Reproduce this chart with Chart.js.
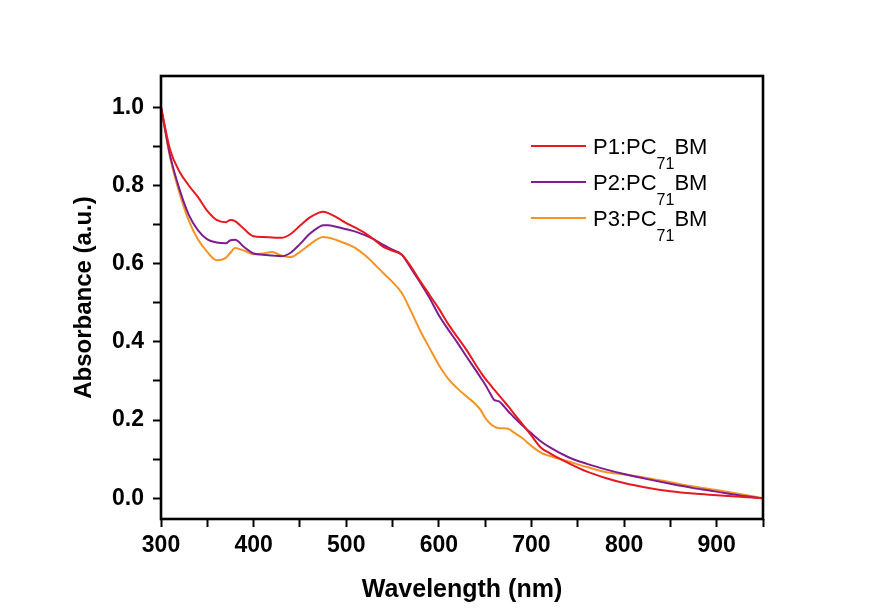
<!DOCTYPE html>
<html>
<head>
<meta charset="utf-8">
<script src="https://cdn.jsdelivr.net/npm/chart.js@4.4.0/dist/chart.umd.min.js"></script>
<style>
  html, body { margin: 0; padding: 0; background: #ffffff; }
  #wrap { width: 873px; height: 615px; }
</style>
</head>
<body>
<div id="wrap"><canvas id="c" width="873" height="615"></canvas></div>
<script>
// ---- Data ----
const wavelengths = [300, 310, 320, 330, 340, 350, 360, 370, 375, 380, 390, 400, 410, 420, 430, 440, 450, 460, 470, 475, 480, 490, 500, 510, 520, 530, 540, 550, 560, 570, 580, 590, 600, 610, 620, 630, 640, 645, 650, 655, 660, 665, 670, 675, 680, 690, 700, 710, 720, 740, 760, 780, 800, 825, 850, 875, 900, 925, 950];

const p1 = [1.000, 0.890, 0.835, 0.800, 0.770, 0.735, 0.712, 0.706, 0.712, 0.709, 0.688, 0.670, 0.668, 0.667, 0.666, 0.676, 0.697, 0.717, 0.730, 0.733, 0.730, 0.718, 0.704, 0.692, 0.679, 0.662, 0.643, 0.633, 0.623, 0.592, 0.555, 0.520, 0.485, 0.446, 0.412, 0.379, 0.341, 0.323, 0.306, 0.292, 0.277, 0.263, 0.249, 0.235, 0.220, 0.190, 0.160, 0.130, 0.115, 0.090, 0.068, 0.052, 0.039, 0.027, 0.018, 0.012, 0.008, 0.004, 0.000];

const p2 = [1.000, 0.875, 0.790, 0.725, 0.685, 0.662, 0.654, 0.652, 0.660, 0.661, 0.642, 0.626, 0.623, 0.621, 0.619, 0.628, 0.650, 0.675, 0.693, 0.698, 0.698, 0.694, 0.688, 0.682, 0.673, 0.662, 0.648, 0.636, 0.623, 0.588, 0.551, 0.512, 0.468, 0.432, 0.398, 0.362, 0.327, 0.309, 0.291, 0.270, 0.251, 0.248, 0.236, 0.222, 0.210, 0.187, 0.166, 0.146, 0.130, 0.105, 0.088, 0.074, 0.062, 0.049, 0.037, 0.026, 0.017, 0.007, 0.000];

const p3 = [1.000, 0.870, 0.780, 0.710, 0.662, 0.630, 0.609, 0.615, 0.628, 0.640, 0.633, 0.624, 0.626, 0.630, 0.621, 0.617, 0.630, 0.648, 0.664, 0.668, 0.667, 0.660, 0.651, 0.640, 0.622, 0.600, 0.576, 0.553, 0.525, 0.478, 0.428, 0.384, 0.341, 0.306, 0.281, 0.260, 0.240, 0.226, 0.206, 0.192, 0.183, 0.179, 0.179, 0.178, 0.170, 0.154, 0.134, 0.117, 0.108, 0.094, 0.080, 0.067, 0.061, 0.052, 0.041, 0.030, 0.021, 0.011, 0.000];

const seriesLabels = ['P1:PC{71}BM', 'P2:PC{71}BM', 'P3:PC{71}BM'];
const seriesColors = ['#E8191E', '#7E1E8E', '#F39424'];
const xTickLabels = [300, 400, 500, 600, 700, 800, 900];
const yTickLabels = [0.0, 0.2, 0.4, 0.6, 0.8, 1.0];
const xTitle = 'Wavelength (nm)';
const yTitle = 'Absorbance (a.u.)';

const FONT = "'Liberation Sans', Arial, Helvetica, sans-serif";

function pts(ys) { return wavelengths.map((w, i) => ({ x: w, y: ys[i] })); }

// frame around plot area
const framePlugin = {
  id: 'frame',
  afterDraw(chart) {
    const { ctx, chartArea: a } = chart;
    ctx.save();
    ctx.strokeStyle = '#000';
    ctx.lineWidth = 2.6;
    ctx.strokeRect(a.left, a.top, a.right - a.left, a.bottom - a.top);
    ctx.restore();
  }
};

// legend with subscripts
const legendPlugin = {
  id: 'subLegend',
  afterDraw(chart) {
    const { ctx, chartArea: a } = chart;
    ctx.save();
    chart.data.datasets.forEach((ds, i) => {
      const y = a.top + 70 + i * 36;
      const x0 = a.left + 370;
      ctx.strokeStyle = ds.borderColor;
      ctx.lineWidth = 2;
      ctx.beginPath();
      ctx.moveTo(x0, y);
      ctx.lineTo(x0 + 55, y);
      ctx.stroke();
      const m = ds.label.match(/^(.*)\{(.*)\}(.*)$/);
      let x = x0 + 62;
      const base = y + 8;
      ctx.fillStyle = '#000';
      ctx.textBaseline = 'alphabetic';
      ctx.textAlign = 'left';
      ctx.font = '22px ' + FONT;
      ctx.fillText(m[1], x, base);
      x += ctx.measureText(m[1]).width;
      ctx.font = '16px ' + FONT;
      ctx.fillText(m[2], x, base + 15);
      x += ctx.measureText(m[2]).width;
      ctx.font = '22px ' + FONT;
      ctx.fillText(m[3], x, base);
    });
    ctx.restore();
  }
};

new Chart(document.getElementById('c'), {
  type: 'line',
  data: {
    datasets: [p1, p2, p3].map((ys, i) => ({
      label: seriesLabels[i],
      data: pts(ys),
      borderColor: seriesColors[i],
      backgroundColor: seriesColors[i],
      borderWidth: 2,
      pointRadius: 0,
      fill: false,
      cubicInterpolationMode: 'monotone'
    }))
  },
  options: {
    responsive: false,
    animation: false,
    devicePixelRatio: 1,
    layout: { padding: { left: 0, right: 110, top: 76, bottom: 0 } },
    plugins: { legend: { display: false }, tooltip: { enabled: false } },
    scales: {
      x: {
        type: 'linear',
        min: 300,
        max: 950,
        border: { display: false },
        grid: { display: true, drawOnChartArea: false, drawTicks: true, tickLength: 8, tickWidth: 2, tickColor: '#000' },
        ticks: {
          stepSize: 50,
          autoSkip: false,
          maxRotation: 0,
          padding: 5,
          color: '#000',
          font: { family: FONT, size: 23, weight: 'bold' },
          callback: (v) => xTickLabels.includes(Math.round(v)) ? String(Math.round(v)) : ''
        },
        title: { display: true, text: xTitle, color: '#000', font: { family: FONT, size: 25, weight: 'bold' }, padding: { top: 0, bottom: 10 } },
        afterFit: (s) => { s.height = 96; }
      },
      y: {
        type: 'linear',
        min: -0.053,
        max: 1.08,
        border: { display: false },
        grid: { display: true, drawOnChartArea: false, drawTicks: true, tickLength: 8, tickWidth: 2, tickColor: '#000' },
        ticks: {
          stepSize: 0.1,
          includeBounds: false,
          autoSkip: false,
          padding: 9,
          color: '#000',
          font: { family: FONT, size: 23, weight: 'bold' },
          callback: (v) => {
            const r = Math.round(v * 10) / 10;
            return yTickLabels.some(t => Math.abs(t - r) < 1e-6) ? r.toFixed(1) : '';
          }
        },
        title: { display: true, text: yTitle, color: '#000', font: { family: FONT, size: 24, weight: 'bold' }, padding: { top: 70, bottom: 0 } },
        afterFit: (s) => { s.width = 161; }
      }
    }
  },
  plugins: [framePlugin, legendPlugin]
});
</script>
</body>
</html>
